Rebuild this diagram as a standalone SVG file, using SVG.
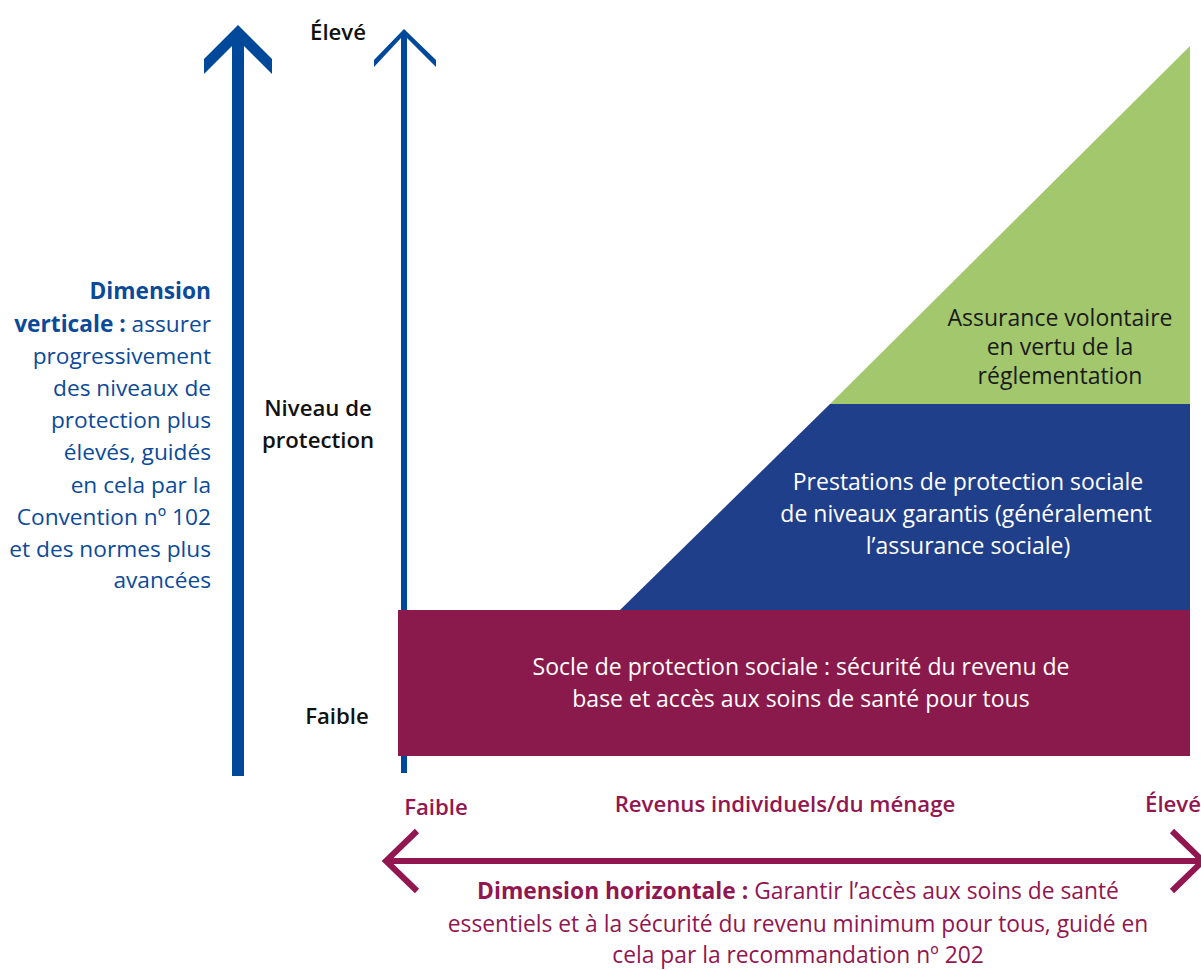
<svg xmlns="http://www.w3.org/2000/svg" width="1201" height="970" viewBox="0 0 1201 970">
<style>
text{font-family:"Open Sans","Noto Sans","Liberation Sans",sans-serif;}
.lbl{font-size:22.2px;font-weight:600;fill:#111;}
.vt{font-size:22.7px;fill:#0b4a99;text-anchor:end;}
.b{font-weight:700;}
.in{font-size:23px;text-anchor:middle;}
.mr{fill:#921650;}
.hz{font-size:22.8px;text-anchor:middle;fill:#921650;}
</style>
<rect width="1201" height="970" fill="#fff"/>
<g id="connectors">
<path d="M232,776 V46 L204,74 V59 L238,25 L272,59 V74 L244,46 V776 Z" fill="#00489a"/>
<path d="M401,773 V38 L374,67 V60 L404,29 L436,60 V67 L407,38 V773 Z" fill="#00489a"/>
<line x1="386" y1="861" x2="1201" y2="861" stroke="#921650" stroke-width="6"/>
<polyline points="417,831 386,861 417,891" fill="none" stroke="#921650" stroke-width="6"/>
<polyline points="1172,831 1203,861 1172,891" fill="none" stroke="#921650" stroke-width="6"/>
</g>
<g id="node-voluntary">
<polygon points="830,404 1190,404 1190,46" fill="#a2c76c"/>
<text class="in" fill="#1a1a1a"><tspan x="1060" y="326">Assurance volontaire</tspan><tspan x="1060" y="355">en vertu de la</tspan><tspan x="1060" y="384">réglementation</tspan></text>
</g>
<g id="node-guaranteed">
<polygon points="620,610 830,404 1190,404 1190,610" fill="#203f8b"/>
<text class="in" fill="#fff"><tspan x="968" y="490">Prestations de protection sociale</tspan><tspan x="966" y="522">de niveaux garantis (généralement</tspan><tspan x="968" y="554">l’assurance sociale)</tspan></text>
</g>
<g id="node-floor">
<rect x="398" y="610" width="792" height="146" fill="#8a1a4c"/>
<text class="in" fill="#fff"><tspan x="801" y="675">Socle de protection sociale : sécurité du revenu de</tspan><tspan x="801" y="707">base et accès aux soins de santé pour tous</tspan></text>
</g>
<g id="labels-vertical">
<text class="lbl" x="338" y="40" text-anchor="middle">Élevé</text>
<text class="lbl" text-anchor="middle"><tspan x="318" y="416">Niveau de</tspan><tspan x="318" y="448">protection</tspan></text>
<text class="lbl" x="337" y="724" text-anchor="middle">Faible</text>
</g>
<g id="vertical-dimension">
<text class="vt"><tspan x="211" y="299" class="b">Dimension</tspan><tspan x="211" y="332"><tspan class="b">verticale :</tspan> assurer</tspan><tspan x="211" y="364">progressivement</tspan><tspan x="211" y="396">des niveaux de</tspan><tspan x="211" y="428">protection plus</tspan><tspan x="211" y="460">élevés, guidés</tspan><tspan x="211" y="493">en cela par la</tspan><tspan x="211" y="525">Convention nº 102</tspan><tspan x="211" y="557">et des normes plus</tspan><tspan x="211" y="588">avancées</tspan></text>
</g>
<g id="horizontal-dimension">
<text class="lbl mr" x="436" y="815" text-anchor="middle">Faible</text>
<text class="lbl mr" x="785" y="812" text-anchor="middle">Revenus individuels/du ménage</text>
<text class="lbl mr" x="1173" y="812" text-anchor="middle">Élevé</text>
<text class="hz"><tspan x="798" y="899"><tspan font-weight="700">Dimension horizontale :</tspan>  Garantir l’accès aux soins de santé</tspan><tspan x="798" y="932">essentiels et à la sécurité du revenu minimum pour tous, guidé en</tspan><tspan x="798" y="963">cela par la recommandation nº 202</tspan></text>
</g>
</svg>
